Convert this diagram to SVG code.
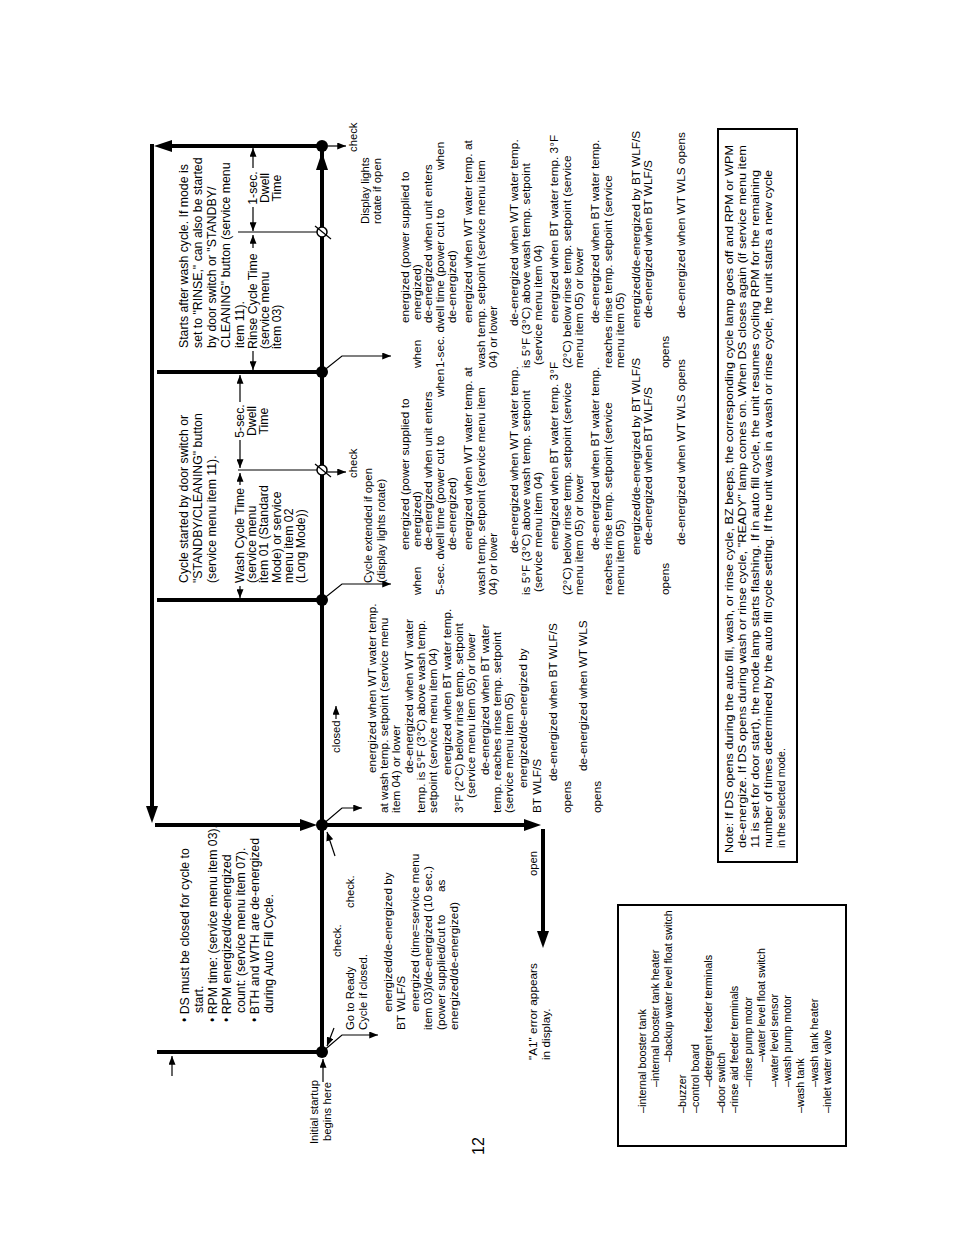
<svg xmlns="http://www.w3.org/2000/svg" width="954" height="1235" viewBox="0 0 954 1235">
<style>
text{font-family:"Liberation Sans",Arial,Helvetica,sans-serif;fill:#000}
.t{font-size:12.3px}
.s{font-size:11.3px}
.o{font-size:11.8px}
.l{font-size:10.8px}
.n{font-size:10.5px}
.pg{font-size:16px}
.thick{stroke:#000;stroke-width:4;fill:none}
.thin{stroke:#000;stroke-width:1.2;fill:none}
.ar{stroke:#000;stroke-width:1.2;fill:none;marker-end:url(#a)}
.box{stroke:#000;stroke-width:2;fill:none}
</style>
<defs>
<marker id="a" viewBox="0 0 10 8" refX="10" refY="4" markerWidth="9" markerHeight="7" markerUnits="userSpaceOnUse" orient="auto"><path d="M0,0L10,4L0,8z" fill="#000"/></marker>
</defs>
<rect width="954" height="1235" fill="#fff"/>

<g id="connectors">
 <path class="thick" d="M152,144V807"/>
 <polygon points="146,806 158,806 152,823"/>
 <path class="thick" d="M170,146H322"/>
 <polygon points="154,146 172,140 172,152"/>
 <path class="thick" d="M157,372H322"/>
 <path class="thick" d="M157,600H322"/>
 <path class="thick" d="M155,825H302"/>
 <polygon points="317,825 300,819 300,831"/>
 <path class="thick" d="M157,1052H322"/>
 <path class="thick" d="M322,146V1052"/>
 <polygon points="322,152 316,170 328,170"/>
 <path class="thick" d="M322,825H526"/>
 <polygon points="541,825 524,819 524,831"/>
 <path class="thick" d="M543,829V933"/>
 <polygon points="543,948 537,931 549,931"/>
 <path class="ar" d="M328,146H346"/>
 <path class="thin" d="M238,232H322"/>
 <path class="thin" d="M238,470H322"/>
 <path class="ar" d="M327,472H346"/>
 <path class="ar" d="M322,372L342,356H391"/>
 <path class="ar" d="M322,600L342,584H391"/>
 <path class="ar" d="M322,825L342,808H362"/>
 <path class="ar" d="M322,1052L342,1035H378"/>
 <path class="ar" d="M335,856L327,832"/>
 <path class="ar" d="M334,1028L327,1046"/>
 <path class="ar" d="M323,1082V1059"/>
 <path class="ar" d="M172,1076V1056"/>
 <path class="ar" d="M253,168V148"/>
 <path class="ar" d="M253,207V231"/>
 <path class="ar" d="M253,248V235"/>
 <path class="ar" d="M253,351V370"/>
 <path class="ar" d="M240,402V375"/>
 <path class="ar" d="M240,440V468"/>
 <path class="ar" d="M240,485V473"/>
 <path class="ar" d="M240,586V598"/>
 <path class="ar" d="M336,719V706"/>
</g>

<g id="node-rinse-end"><circle cx="322" cy="146" r="6"/></g>
<g id="node-rinse-dwell"><circle cx="322" cy="232" r="5" fill="#fff" stroke="#000" stroke-width="1.5"/><path class="thin" d="M315,226L331,239"/></g>
<g id="node-rinse-start"><circle cx="322" cy="372" r="6"/></g>
<g id="node-wash-dwell"><circle cx="322" cy="470" r="5" fill="#fff" stroke="#000" stroke-width="1.5"/><path class="thin" d="M315,464L331,477"/></g>
<g id="node-wash-start"><circle cx="322" cy="600" r="6"/></g>
<g id="node-ready"><circle cx="322" cy="825" r="6"/></g>
<g id="node-startup"><circle cx="322" cy="1052" r="6"/></g>

<g id="rinse-texts" transform="translate(0,1235) rotate(-90)">
 <text class="s" x="1083" y="357">check</text>
 <text class="s" x="1011" y="369">Display lights</text>
 <text class="s" x="1011" y="381">rotate if open</text>
 <text class="t" x="887" y="188">Starts after wash cycle. If mode is</text>
 <text class="t" x="887" y="202">set to "RINSE," can also be started</text>
 <text class="t" x="887" y="216">by door switch or "STANDBY/</text>
 <text class="t" x="887" y="230">CLEANING" button (service menu</text>
 <text class="t" x="887" y="244">item 11).</text>
 <text class="t" x="886" y="257">Rinse Cycle Time</text>
 <text class="t" x="886" y="269">(service menu</text>
 <text class="t" x="886" y="281">item 03)</text>
 <text class="t" x="1047" y="257" text-anchor="middle">1-sec.</text>
 <text class="t" x="1047" y="269" text-anchor="middle">Dwell</text>
 <text class="t" x="1047" y="281" text-anchor="middle">Time</text>
</g>

<g id="wash-texts" transform="translate(0,1235) rotate(-90)">
 <text class="t" x="652" y="188">Cycle started by door switch or</text>
 <text class="t" x="652" y="202">"STANDBY/CLEANING" button</text>
 <text class="t" x="652" y="216">(service menu item 11).</text>
 <text class="t" x="652" y="244">Wash Cycle Time</text>
 <text class="t" x="652" y="256">(service menu</text>
 <text class="t" x="652" y="268">item 01 (Standard</text>
 <text class="t" x="652" y="281">Mode) or service</text>
 <text class="t" x="652" y="293">menu item 02</text>
 <text class="t" x="652" y="305">(Long Mode))</text>
 <text class="t" x="814" y="244" text-anchor="middle">5-sec.</text>
 <text class="t" x="814" y="256" text-anchor="middle">Dwell</text>
 <text class="t" x="814" y="268" text-anchor="middle">Time</text>
 <text class="s" x="757" y="357">check</text>
 <text class="s" x="652" y="372">Cycle extended if open</text>
 <text class="s" x="652" y="385">(display lights rotate)</text>
</g>

<g id="rinse-outputs" transform="translate(0,1235) rotate(-90) translate(867,0)">
 <text class="o" x="45" y="409">energized (power supplied to</text>
 <text class="o" x="0" y="421">when</text><text class="o" x="48" y="421">energized)</text>
 <text class="o" x="45" y="432">de-energized when unit enters</text>
 <text class="o" x="0" y="444">1-sec. dwell time (power cut to</text><text class="o" x="198" y="444">when</text>
 <text class="o" x="45" y="456">de-energized)</text>
 <text class="o" x="45" y="472">energized when WT water temp. at</text>
 <text class="o" x="0" y="485">wash temp. setpoint (service menu item</text>
 <text class="o" x="0" y="497">04) or lower</text>
 <text class="o" x="42" y="518">de-energized when WT water temp.</text>
 <text class="o" x="0" y="530">is 5°F (3°C) above wash temp. setpoint</text>
 <text class="o" x="3" y="542">(service menu item 04)</text>
 <text class="o" x="45" y="558">energized when BT water temp. 3°F</text>
 <text class="o" x="0" y="571">(2°C) below rinse temp. setpoint (service</text>
 <text class="o" x="0" y="583">menu item 05) or lower</text>
 <text class="o" x="45" y="599">de-energized when BT water temp.</text>
 <text class="o" x="0" y="612">reaches rinse temp. setpoint (service</text>
 <text class="o" x="0" y="624">menu item 05)</text>
 <text class="o" x="40" y="640">energized/de-energized by BT WLF/S</text>
 <text class="o" x="50" y="652">de-energized when BT WLF/S</text>
 <text class="o" x="0" y="669">opens</text>
 <text class="o" x="50" y="685">de-energized when WT WLS opens</text>
</g>

<g id="wash-outputs" transform="translate(0,1235) rotate(-90) translate(640,0)">
 <text class="o" x="45" y="409">energized (power supplied to</text>
 <text class="o" x="0" y="421">when</text><text class="o" x="48" y="421">energized)</text>
 <text class="o" x="45" y="432">de-energized when unit enters</text>
 <text class="o" x="0" y="444">5-sec. dwell time (power cut to</text><text class="o" x="198" y="444">when</text>
 <text class="o" x="45" y="456">de-energized)</text>
 <text class="o" x="45" y="472">energized when WT water temp. at</text>
 <text class="o" x="0" y="485">wash temp. setpoint (service menu item</text>
 <text class="o" x="0" y="497">04) or lower</text>
 <text class="o" x="42" y="518">de-energized when WT water temp.</text>
 <text class="o" x="0" y="530">is 5°F (3°C) above wash temp. setpoint</text>
 <text class="o" x="3" y="542">(service menu item 04)</text>
 <text class="o" x="45" y="558">energized when BT water temp. 3°F</text>
 <text class="o" x="0" y="571">(2°C) below rinse temp. setpoint (service</text>
 <text class="o" x="0" y="583">menu item 05) or lower</text>
 <text class="o" x="45" y="599">de-energized when BT water temp.</text>
 <text class="o" x="0" y="612">reaches rinse temp. setpoint (service</text>
 <text class="o" x="0" y="624">menu item 05)</text>
 <text class="o" x="40" y="640">energized/de-energized by BT WLF/S</text>
 <text class="o" x="50" y="652">de-energized when BT WLF/S</text>
 <text class="o" x="0" y="669">opens</text>
 <text class="o" x="50" y="685">de-energized when WT WLS opens</text>
</g>

<g id="fill-outputs" transform="translate(0,1235) rotate(-90) translate(422,0)">
 <text class="s" x="60" y="340">closed</text>
 <text class="o" x="40" y="376">energized when WT water temp.</text>
 <text class="o" x="0" y="388">at wash temp. setpoint (service menu</text>
 <text class="o" x="0" y="400">item 04) or lower</text>
 <text class="o" x="40" y="413">de-energized when WT water</text>
 <text class="o" x="0" y="425">temp. is 5°F (3°C) above wash temp.</text>
 <text class="o" x="0" y="437">setpoint (service menu item 04)</text>
 <text class="o" x="38" y="451">energized when BT water temp.</text>
 <text class="o" x="0" y="463">3°F (2°C) below rinse temp. setpoint</text>
 <text class="o" x="15" y="475">(service menu item 05) or lower</text>
 <text class="o" x="38" y="489">de-energized when BT water</text>
 <text class="o" x="0" y="501">temp. reaches rinse temp. setpoint</text>
 <text class="o" x="0" y="513">(service menu item 05)</text>
 <text class="o" x="25" y="527">energized/de-energized by</text>
 <text class="o" x="0" y="541">BT WLF/S</text>
 <text class="o" x="32" y="557">de-energized when BT WLF/S</text>
 <text class="o" x="0" y="571">opens</text>
 <text class="o" x="42" y="587">de-energized when WT WLS</text>
 <text class="o" x="0" y="601">opens</text>
</g>

<g id="autofill-texts" transform="translate(0,1235) rotate(-90)">
 <text class="t" x="213" y="189">• DS must be closed for cycle to</text>
 <text class="t" x="222" y="203">start.</text>
 <text class="t" x="213" y="217">• RPM time: (service menu item 03).</text>
 <text class="t" x="213" y="231">• RPM energized/de-energized</text>
 <text class="t" x="222" y="245">count: (service menu item 07).</text>
 <text class="t" x="213" y="259">• BTH and WTH are de-energized</text>
 <text class="t" x="222" y="273">during Auto Fill Cycle.</text>
 <text class="s" x="278" y="341">check.</text>
 <text class="s" x="205" y="354">Go to Ready</text>
 <text class="s" x="327" y="354">check.</text>
 <text class="s" x="205" y="367">Cycle if closed.</text>
 <text class="o" x="223" y="392">energized/de-energized by</text>
 <text class="o" x="205" y="405">BT WLF/S</text>
 <text class="o" x="223" y="419">energized (time=service menu</text>
 <text class="o" x="205" y="432">item 03)/de-energized (10 sec.)</text>
 <text class="o" x="205" y="445">(power supplied/cut to</text><text class="o" x="343" y="445">as</text>
 <text class="o" x="205" y="458">energized/de-energized)</text>
 <text class="s" x="359" y="537">open</text>
 <text class="o" x="175" y="537">"A1" error appears</text>
 <text class="o" x="175" y="550">in display.</text>
</g>

<g id="startup-label" transform="translate(0,1235) rotate(-90)">
 <text class="s" x="155" y="318" text-anchor="end">Initial startup</text>
 <text class="s" x="153" y="331" text-anchor="end">begins here</text>
 <text class="pg" x="80" y="484">12</text>
</g>

<g id="legend">
 <rect class="box" x="618" y="905" width="228" height="241"/>
 <g transform="translate(0,1235) rotate(-90)">
  <text class="l" x="122" y="646">–internal booster tank</text>
  <text class="l" x="148" y="659">–internal booster tank heater</text>
  <text class="l" x="173" y="672">–backup water level float switch</text>
  <text class="l" x="122" y="686">–buzzer</text>
  <text class="l" x="122" y="699">–control board</text>
  <text class="l" x="148" y="712">–detergent feeder terminals</text>
  <text class="l" x="122" y="725">–door switch</text>
  <text class="l" x="122" y="738">–rinse aid feeder terminals</text>
  <text class="l" x="148" y="752">–rinse pump motor</text>
  <text class="l" x="173" y="765">–water level float switch</text>
  <text class="l" x="148" y="778">–water level sensor</text>
  <text class="l" x="148" y="791">–wash pump motor</text>
  <text class="l" x="122" y="804">–wash tank</text>
  <text class="l" x="148" y="818">–wash tank heater</text>
  <text class="l" x="122" y="831">–inlet water valve</text>
 </g>
</g>

<g id="note">
 <rect class="box" x="718" y="129" width="79" height="733"/>
 <g transform="translate(0,1235) rotate(-90)">
  <text class="n" x="382" y="733" textLength="708" lengthAdjust="spacingAndGlyphs">Note: If DS opens during the auto fill, wash, or rinse cycle, BZ beeps, the corresponding cycle lamp goes off and RPM or WPM</text>
  <text class="n" x="387" y="746" textLength="703" lengthAdjust="spacingAndGlyphs">de-energize. If DS opens during wash or rinse cycle, "READY" lamp comes on. When DS closes again (if service menu item</text>
  <text class="n" x="387" y="759" textLength="678" lengthAdjust="spacingAndGlyphs">11 is set for door start), the mode lamp starts flashing. If in auto fill cycle, the unit resumes cycling RPM for the remaining</text>
  <text class="n" x="387" y="772" textLength="678" lengthAdjust="spacingAndGlyphs">number of times determined by the auto fill cycle setting. If the unit was in a wash or rinse cycle, the unit starts a new cycle</text>
  <text class="n" x="387" y="785">in the selected mode.</text>
 </g>
</g>
</svg>
